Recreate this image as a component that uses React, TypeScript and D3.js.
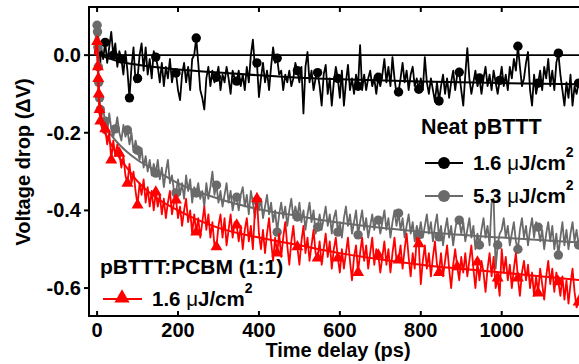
import { useEffect, useRef } from "react";
import * as d3 from "d3";

// time axis (ps): a few dense points around t = 0, then a regular 5 ps grid
const EARLY_T = [-6, -3, 0, 1, 2, 3, 4, 6, 8];
const GRID_T = d3.range(10, 1200, 5);

// neat pBTTT, 1.6 uJ/cm2
const BLACK_EARLY = [0.0, 0.03, 0.01, 0.04, -0.01, 0.05, 0.0, 0.03, -0.02];
const BLACK = [
  0.02, -0.01, 0.033, -0.02, 0.02, 0.06, 0.0, 0.03, -0.03, 0.01,
  -0.01, -0.05, 0.01, -0.04, -0.11, -0.03, 0.02, -0.07, -0.06, 0.0,
  0.03, -0.04, 0.02, -0.05, -0.01, -0.06, 0.01, -0.005, -0.03, -0.07,
  -0.02, -0.08, -0.03, -0.06, -0.01, -0.07, -0.04, -0.046, -0.09, -0.116,
  -0.05, -0.02, -0.07, -0.03, -0.09, -0.01, 0.0, 0.044, -0.02, -0.09,
  -0.11, -0.14, -0.06, -0.03, -0.08, -0.04, -0.07, -0.057, -0.03, -0.09,
  -0.05, -0.07, -0.03, -0.06, -0.1, -0.04, -0.06, -0.067, -0.04, -0.08,
  -0.05, -0.09, -0.03, -0.07, 0.0, 0.04, -0.03, -0.02, -0.108, -0.06,
  -0.02, -0.07, -0.04, -0.09, -0.03, 0.02, -0.02, -0.008, -0.05, -0.04,
  -0.09, -0.05, -0.07, -0.04, -0.08, -0.06, -0.02, -0.04, -0.07, -0.03,
  -0.15, -0.03, 0.008, -0.07, -0.04, -0.09, -0.06, -0.045, -0.08, -0.13,
  -0.05, -0.025, -0.1, -0.06, -0.13, -0.07, -0.03, -0.06, -0.11, -0.04,
  -0.13, -0.07, -0.025, -0.09, -0.06, -0.1, -0.05, -0.08, 0.026, -0.09,
  -0.05, -0.09, -0.06, -0.04, -0.08, -0.06, -0.1, -0.057, -0.08, -0.05,
  -0.01, -0.07, -0.03, -0.08, -0.005, -0.06, -0.1, -0.095, -0.06, -0.02,
  -0.07, -0.04, -0.09, -0.05, -0.03, -0.08, -0.06, -0.088, -0.06, -0.09,
  -0.005, -0.07, -0.1, -0.06, -0.09, -0.12, -0.07, -0.118, -0.08, -0.05,
  -0.1, -0.06, -0.11, -0.07, -0.04, -0.09, -0.05, -0.044, -0.09, -0.13,
  -0.05, 0.018, -0.06, -0.1, -0.07, -0.04, -0.08, -0.059, -0.1, -0.06,
  -0.03, -0.08, -0.05, -0.09, -0.04, -0.07, -0.1, -0.065, -0.03, -0.08,
  -0.05, -0.09, -0.03, -0.06, -0.01, -0.04, 0.023, -0.03, -0.08, -0.06,
  -0.02, 0.008, -0.09, -0.13, -0.05, -0.1, -0.072, -0.04, -0.09, -0.03,
  -0.06, -0.01, -0.08, -0.04, -0.09, -0.02, 0.005, -0.05, -0.09, -0.13,
  -0.07, -0.11, -0.05, -0.13, -0.08, -0.1, -0.072, -0.09,
];
const BLACK_MARKS = [20, 40, 60, 80, 100, 145, 195, 245, 295, 345, 395, 445, 495, 545, 595, 645, 695, 745, 795, 845, 895, 945, 995, 1040, 1090, 1140, 1190];
const BLACK_FIT_T = [0, 20, 50, 100, 200, 300, 400, 500, 600, 800, 1000, 1200];
const BLACK_FIT = [0.005, -0.005, -0.015, -0.025, -0.037, -0.045, -0.052, -0.058, -0.062, -0.068, -0.072, -0.075];

// neat pBTTT, 5.3 uJ/cm2
const GREY_EARLY = [0.02, 0.05, 0.077, 0.06, 0.02, -0.03, -0.07, -0.11, -0.14];
const GREY = [
  -0.16, -0.14, -0.17, -0.2, -0.15, -0.19, -0.21, -0.19, -0.16, -0.2,
  -0.22, -0.18, -0.21, -0.193, -0.23, -0.2, -0.25, -0.22, -0.245, -0.27,
  -0.24, -0.29, -0.26, -0.3, -0.27, -0.31, -0.28, -0.304, -0.27, -0.32,
  -0.29, -0.34, -0.3, -0.27, -0.33, -0.31, -0.35, -0.355, -0.32, -0.36,
  -0.33, -0.37, -0.31, -0.35, -0.32, -0.38, -0.34, -0.355, -0.33, -0.37,
  -0.35, -0.39, -0.33, -0.37, -0.34, -0.3, -0.36, -0.335, -0.38, -0.35,
  -0.39, -0.36, -0.33, -0.38, -0.35, -0.4, -0.37, -0.366, -0.4, -0.36,
  -0.34, -0.39, -0.36, -0.41, -0.35, -0.38, -0.42, -0.375, -0.4, -0.37,
  -0.42, -0.39, -0.36, -0.41, -0.38, -0.43, -0.4, -0.456, -0.41, -0.38,
  -0.42, -0.39, -0.44, -0.4, -0.37, -0.42, -0.39, -0.417, -0.38, -0.43,
  -0.4, -0.45, -0.41, -0.38, -0.43, -0.4, -0.46, -0.443, -0.41, -0.45,
  -0.42, -0.39, -0.44, -0.41, -0.46, -0.42, -0.4, -0.456, -0.43, -0.47,
  -0.42, -0.39, -0.44, -0.41, -0.46, -0.43, -0.4, -0.463, -0.43, -0.4,
  -0.45, -0.42, -0.47, -0.44, -0.41, -0.45, -0.42, -0.425, -0.46, -0.43,
  -0.4, -0.45, -0.42, -0.47, -0.43, -0.4, -0.44, -0.407, -0.45, -0.42,
  -0.47, -0.44, -0.41, -0.46, -0.43, -0.48, -0.44, -0.463, -0.43, -0.47,
  -0.44, -0.41, -0.46, -0.43, -0.48, -0.44, -0.41, -0.468, -0.44, -0.49,
  -0.45, -0.42, -0.47, -0.44, -0.49, -0.45, -0.42, -0.425, -0.46, -0.43,
  -0.48, -0.45, -0.42, -0.47, -0.44, -0.5, -0.46, -0.489, -0.45, -0.42,
  -0.47, -0.44, -0.49, -0.38, -0.37, -0.55, -0.489, -0.46, -0.45, -0.42,
  -0.47, -0.44, -0.49, -0.46, -0.43, -0.48, -0.5, -0.45, -0.42, -0.47,
  -0.44, -0.49, -0.45, -0.42, -0.47, -0.43, -0.443, -0.48, -0.45, -0.5,
  -0.46, -0.43, -0.48, -0.44, -0.5, -0.46, -0.515, -0.47, -0.43, -0.49,
  -0.45, -0.5, -0.46, -0.43, -0.48, -0.45, -0.489, -0.46,
];
const GREY_MARKS = [0, 1, 2, 3, 4, 6, 8, 20, 45, 75, 100, 145, 195, 245, 295, 345, 395, 445, 495, 545, 595, 645, 695, 745, 795, 845, 895, 945, 990, 1040, 1090, 1140, 1190];
const GREY_FIT_T = [0, 3, 6, 10, 25, 50, 75, 100, 150, 200, 300, 400, 500, 600, 800, 1000, 1200];
const GREY_FIT = [0.05, -0.06, -0.13, -0.16, -0.19, -0.225, -0.25, -0.27, -0.3, -0.33, -0.37, -0.397, -0.415, -0.432, -0.455, -0.47, -0.483];

// pBTTT:PCBM (1:1), 1.6 uJ/cm2
const RED_EARLY = [0.0, 0.02, 0.035, 0.01, -0.03, -0.06, -0.1, -0.14, -0.17];
const RED = [
  -0.15, -0.2, -0.19, -0.23, -0.2, -0.27, -0.22, -0.26, -0.23, -0.253,
  -0.29, -0.26, -0.31, -0.33, -0.28, -0.33, -0.3, -0.35, -0.386, -0.33,
  -0.36, -0.32, -0.38, -0.34, -0.39, -0.35, -0.4, -0.353, -0.39, -0.36,
  -0.41, -0.37, -0.42, -0.38, -0.35, -0.41, -0.38, -0.373, -0.42, -0.39,
  -0.44, -0.4, -0.37, -0.43, -0.4, -0.46, -0.41, -0.456, -0.42, -0.47,
  -0.43, -0.39, -0.45, -0.41, -0.47, -0.43, -0.49, -0.494, -0.44, -0.41,
  -0.47, -0.42, -0.49, -0.45, -0.41, -0.47, -0.43, -0.438, -0.48, -0.44,
  -0.5, -0.45, -0.42, -0.48, -0.44, -0.5, -0.4, -0.37, -0.46, -0.5,
  -0.45, -0.51, -0.46, -0.42, -0.48, -0.53, -0.47, -0.51, -0.46, -0.52,
  -0.47, -0.43, -0.49, -0.54, -0.48, -0.44, -0.5, -0.494, -0.54, -0.48,
  -0.44, -0.51, -0.47, -0.53, -0.49, -0.45, -0.51, -0.523, -0.48, -0.54,
  -0.5, -0.46, -0.52, -0.48, -0.55, -0.5, -0.47, -0.523, -0.56, -0.5,
  -0.55, -0.51, -0.47, -0.53, -0.58, -0.52, -0.49, -0.56, -0.51, -0.47,
  -0.53, -0.49, -0.55, -0.51, -0.47, -0.54, -0.5, -0.515, -0.56, -0.52,
  -0.48, -0.54, -0.5, -0.56, -0.51, -0.47, -0.53, -0.528, -0.49, -0.55,
  -0.5, -0.46, -0.52, -0.57, -0.51, -0.55, -0.47, -0.486, -0.59, -0.53,
  -0.49, -0.55, -0.51, -0.57, -0.52, -0.48, -0.54, -0.56, -0.51, -0.57,
  -0.53, -0.49, -0.55, -0.6, -0.54, -0.5, -0.545, -0.58, -0.52, -0.56,
  -0.51, -0.57, -0.53, -0.49, -0.55, -0.6, -0.533, -0.58, -0.53, -0.56,
  -0.61, -0.55, -0.51, -0.57, -0.52, -0.6, -0.574, -0.62, -0.5, -0.56,
  -0.52, -0.58, -0.54, -0.6, -0.55, -0.51, -0.574, -0.62, -0.56, -0.53,
  -0.58, -0.54, -0.6, -0.56, -0.62, -0.57, -0.613, -0.55, -0.59, -0.63,
  -0.57, -0.53, -0.59, -0.55, -0.61, -0.56, -0.584, -0.62, -0.57, -0.63,
  -0.58, -0.64, -0.59, -0.55, -0.61, -0.65, -0.636, -0.6,
];
const RED_MARKS = [0, 2, 3, 4, 6, 8, 20, 35, 55, 75, 100, 145, 195, 245, 295, 345, 395, 445, 495, 545, 595, 645, 695, 745, 795, 845, 890, 940, 990, 1040, 1090, 1140, 1190];
const RED_FIT_T = [0, 3, 6, 10, 25, 40, 70, 100, 150, 200, 250, 300, 400, 500, 600, 800, 1000, 1200];
const RED_FIT = [0.02, -0.07, -0.14, -0.18, -0.21, -0.24, -0.285, -0.325, -0.37, -0.4, -0.425, -0.445, -0.47, -0.49, -0.51, -0.54, -0.56, -0.58];

const X_TICKS = [0, 200, 400, 600, 800, 1000];
const Y_TICKS = [0, -0.2, -0.4, -0.6];

const GREY_COLOR = "#6a6a6a";
const RED_COLOR = "#ff0000";
const FONT = "'Liberation Sans', Arial, sans-serif";

type Pt = { t: number; v: number };

const App = () => {
  const svgRef = useRef<SVGSVGElement>(null);

  useEffect(() => {
    if (!svgRef.current) return;
    const svg = d3.select(svgRef.current);
    svg.selectAll("*").remove();

    const W = 579;
    const H = 364;
    const left = 89;
    const top = 7;
    const bottom = 316;

    const x = d3.scaleLinear().domain([-20, 1191]).range([left, W]);
    const y = d3.scaleLinear().domain([0.124, -0.672]).range([top, bottom]);

    svg.attr("width", W).attr("height", H);

    svg.append("defs")
      .append("clipPath")
      .attr("id", "plot-clip")
      .append("rect")
      .attr("x", left)
      .attr("y", top)
      .attr("width", W - left + 10)
      .attr("height", bottom - top);

    const plot = svg.append("g").attr("clip-path", "url(#plot-clip)");

    // zero reference
    plot.append("line")
      .attr("x1", left).attr("x2", W)
      .attr("y1", y(0)).attr("y2", y(0))
      .attr("stroke", "#000")
      .attr("stroke-width", 1.6);

    const build = (early: number[], rest: number[]): Pt[] => [
      ...EARLY_T.map((t, i) => ({ t, v: early[i] })),
      ...GRID_T.map((t, i) => ({ t, v: rest[i] })),
    ];

    const line = d3.line<Pt>().x((d) => x(d.t)).y((d) => y(d.v));
    const fitLine = d3.line<Pt>().x((d) => x(d.t)).y((d) => y(d.v)).curve(d3.curveMonotoneX);

    const series = [
      { data: build(BLACK_EARLY, BLACK), marks: BLACK_MARKS, fitT: BLACK_FIT_T, fit: BLACK_FIT, color: "#000", shape: "circle" },
      { data: build(GREY_EARLY, GREY), marks: GREY_MARKS, fitT: GREY_FIT_T, fit: GREY_FIT, color: GREY_COLOR, shape: "circle" },
      { data: build(RED_EARLY, RED), marks: RED_MARKS, fitT: RED_FIT_T, fit: RED_FIT, color: RED_COLOR, shape: "triangle" },
    ];

    series.forEach((s) => {
      plot.append("path")
        .datum(s.data)
        .attr("fill", "none")
        .attr("stroke", s.color)
        .attr("stroke-width", 1.8)
        .attr("stroke-linejoin", "round")
        .attr("d", line);

      const markPts = s.marks
        .map((t) => s.data.find((d) => d.t === t))
        .filter((d): d is Pt => !!d);

      if (s.shape === "circle") {
        plot.selectAll(null)
          .data(markPts)
          .join("circle")
          .attr("cx", (d) => x(d.t))
          .attr("cy", (d) => y(d.v))
          .attr("r", 4.7)
          .attr("fill", s.color);
      } else {
        const tri = d3.symbol().type(d3.symbolTriangle).size(62);
        plot.selectAll(null)
          .data(markPts)
          .join("path")
          .attr("d", tri()!)
          .attr("transform", (d) => `translate(${x(d.t)},${y(d.v)})`)
          .attr("fill", s.color);
      }

      plot.append("path")
        .datum(s.fitT.map((t, i) => ({ t, v: s.fit[i] })))
        .attr("fill", "none")
        .attr("stroke", s.color)
        .attr("stroke-width", 2)
        .attr("d", fitLine);
    });

    // frame
    const frame = svg.append("g").attr("stroke", "#000").attr("stroke-width", 2);
    frame.append("line").attr("x1", left).attr("x2", W).attr("y1", top).attr("y2", top);
    frame.append("line").attr("x1", left).attr("x2", W).attr("y1", bottom).attr("y2", bottom);
    frame.append("line").attr("x1", left).attr("x2", left).attr("y1", top - 1).attr("y2", bottom + 1);

    // ticks
    X_TICKS.forEach((t) => {
      frame.append("line").attr("x1", x(t)).attr("x2", x(t)).attr("y1", top).attr("y2", top + 5);
      frame.append("line").attr("x1", x(t)).attr("x2", x(t)).attr("y1", bottom).attr("y2", bottom - 5);
    });
    Y_TICKS.forEach((v) => {
      frame.append("line").attr("x1", left - 5).attr("x2", left).attr("y1", y(v)).attr("y2", y(v));
    });

    const text = svg.append("g")
      .attr("font-family", FONT)
      .attr("font-weight", "bold")
      .attr("font-size", 20)
      .attr("fill", "#000");

    X_TICKS.forEach((t) => {
      text.append("text")
        .attr("x", x(t))
        .attr("y", 337)
        .attr("text-anchor", "middle")
        .text(d3.format("d")(t));
    });
    Y_TICKS.forEach((v) => {
      text.append("text")
        .attr("x", 81)
        .attr("y", y(v) + 7)
        .attr("text-anchor", "end")
        .text(d3.format(".1f")(v).replace("−", "-"));
    });

    text.append("text")
      .attr("x", 338)
      .attr("y", 357)
      .attr("text-anchor", "middle")
      .text("Time delay (ps)");

    text.append("text")
      .attr("transform", "translate(30,162) rotate(-90)")
      .attr("text-anchor", "middle")
      .text("Voltage drop (ΔV)");

    // legends
    const fluence = (g: d3.Selection<SVGGElement, unknown, null, undefined>, tx: number, ty: number, value: string) => {
      const t = g.append("text").attr("x", tx).attr("y", ty).attr("font-size", 20.5);
      t.append("tspan").text(`${value} `);
      t.append("tspan").attr("font-weight", "normal").text("μ");
      t.append("tspan").text("J/cm");
      t.append("tspan").attr("font-size", 14).attr("dy", -13).text("2");
    };

    text.append("text").attr("x", 421).attr("y", 134).attr("font-size", 21.5).text("Neat pBTTT");

    const legendRows = [
      { y: 163, color: "#000", label: "1.6" },
      { y: 196, color: GREY_COLOR, label: "5.3" },
    ];
    legendRows.forEach((r) => {
      svg.append("line")
        .attr("x1", 425).attr("x2", 463)
        .attr("y1", r.y).attr("y2", r.y)
        .attr("stroke", r.color).attr("stroke-width", 2);
      svg.append("circle").attr("cx", 444).attr("cy", r.y).attr("r", 6).attr("fill", r.color);
      fluence(text, 473, r.y + 6.5, r.label);
    });

    text.append("text").attr("x", 100).attr("y", 274).attr("font-size", 21).text("pBTTT:PCBM (1:1)");
    svg.append("line")
      .attr("x1", 103).attr("x2", 142)
      .attr("y1", 299).attr("y2", 299)
      .attr("stroke", RED_COLOR).attr("stroke-width", 2);
    svg.append("path")
      .attr("d", d3.symbol().type(d3.symbolTriangle).size(100)()!)
      .attr("transform", "translate(122,298)")
      .attr("fill", RED_COLOR);
    fluence(text, 152, 306, "1.6");
  }, []);

  return (
    <svg
      ref={svgRef}
      style={{ position: "absolute", left: 0, top: 0, background: "#fff" }}
    />
  );
};

export default App;
